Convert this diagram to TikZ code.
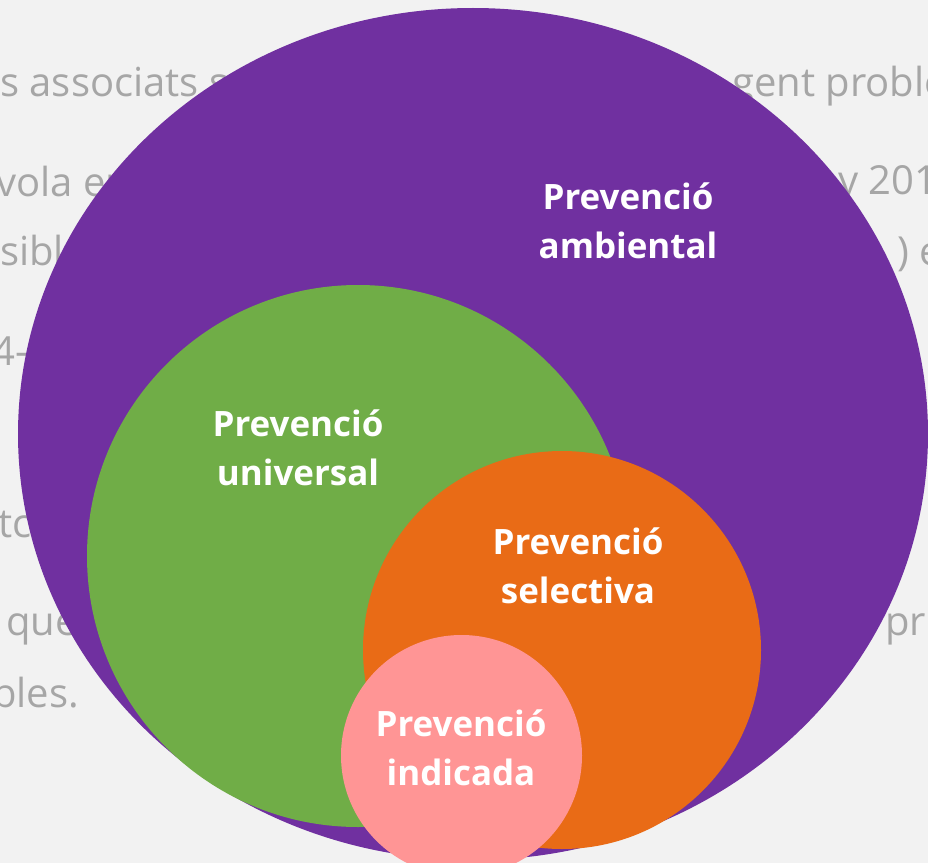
\documentclass[tikz,border=0pt]{standalone}
\usepackage{fontspec}
\setmainfont{Open Sans}
\usepackage{tikz}

\tikzset{
  bgtext/.style={anchor=base west, inner sep=0pt, text={rgb,255:red,166;green,166;blue,166}, font=\fontsize{30}{36}\selectfont},
  circlelabel/.style={align=center, inner sep=0pt, text=white, font=\bfseries\fontsize{26.2}{37}\selectfont}
}

\begin{document}
\begin{tikzpicture}[x=0.75pt,y=0.75pt,yscale=-1,xscale=1]
%set diagram area: 928 x 863
\clip (0,0) rectangle (928,863);
\fill [fill={rgb, 255:red, 242; green, 242; blue, 242 }] (0,0) rectangle (928,863);

% Text Node
\draw (0,97) node (txtassoc) [bgtext] {s associats s};
% Text Node
\draw (732,97) node (txtgent) [bgtext] {gent proble};
% Text Node
\draw (-4,196) node (txtvola) [bgtext] {vola en};
% Text Node
\draw (838,195) node (txtany) [bgtext] {y 201};
% Text Node
\draw (0,265) node (txtsibl) [bgtext] {sibl};
% Text Node
\draw (897,265) node (txtparen) [bgtext] {) e};
% Text Node
\draw (-8,365) node (txtquatre) [bgtext] {4-};
% Text Node
\draw (-2,537) node (txttc) [bgtext] {tc};
% Text Node
\draw (6,635) node (txtque) [bgtext] {que};
% Text Node
\draw (885,635) node (txtpr) [bgtext] {pr};
% Text Node
\draw (-8,707) node (txtbles) [bgtext] {bles.};

%Shape: Ellipse [ambiental]
\fill [fill={rgb, 255:red, 112; green, 48; blue, 160 }] (473,434) ellipse [x radius=455, y radius=426];
%Shape: Circle [universal]
\fill [fill={rgb, 255:red, 112; green, 173; blue, 71 }] (358,556) circle [radius=271];
%Shape: Circle [selectiva]
\fill [fill={rgb, 255:red, 233; green, 107; blue, 22 }] (562,650) circle [radius=199];
%Shape: Circle [indicada]
\fill [fill={rgb, 255:red, 255; green, 149; blue, 149 }] (461.5,755.5) circle [radius=120.5];

% Text Node
\draw (628,221) node (ambiental) [circlelabel] {Prevenció\\ambiental};
% Text Node
\draw (298,448) node (universal) [circlelabel] {Prevenció\\universal};
% Text Node
\draw (578,566) node (selectiva) [circlelabel] {Prevenció\\selectiva};
% Text Node
\draw (461,748) node (indicada) [circlelabel] {Prevenció\\indicada};

\end{tikzpicture}
\end{document}
